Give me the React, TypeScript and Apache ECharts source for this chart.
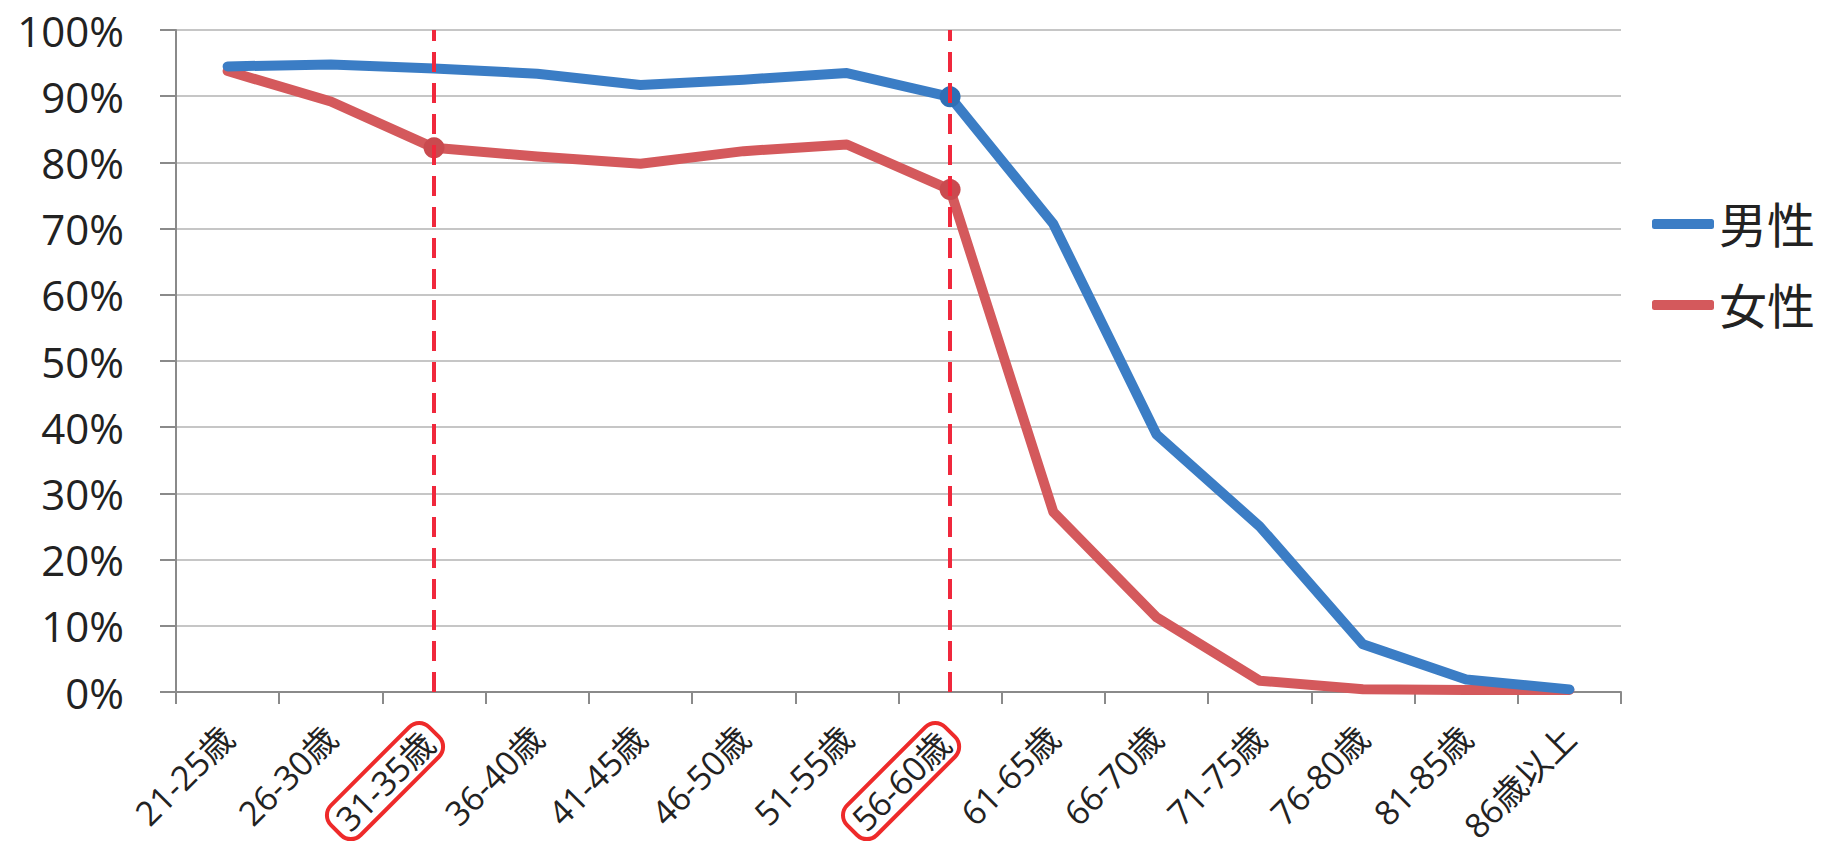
import React, { useEffect, useRef } from 'react';
import * as echarts from 'echarts';

const categories = ['21-25歳', '26-30歳', '31-35歳', '36-40歳', '41-45歳', '46-50歳', '51-55歳', '56-60歳', '61-65歳', '66-70歳', '71-75歳', '76-80歳', '81-85歳', '86歳以上'];
const maleValues = [94.5, 94.8, 94.2, 93.4, 91.7, 92.5, 93.5, 89.9, 70.7, 38.9, 25.0, 7.2, 1.9, 0.4];
const femaleValues = [93.8, 89.2, 82.2, 80.9, 79.8, 81.7, 82.7, 75.9, 27.2, 11.3, 1.7, 0.4, 0.3, 0.3];
const highlightedCategories = ['31-35歳', '56-60歳'];
const maleMarkedCategories = ['56-60歳'];
const femaleMarkedCategories = ['31-35歳', '56-60歳'];
const seriesNames = ['男性', '女性'];

const FONT = "'Open Sans', 'Noto Sans CJK JP', sans-serif";
const BLUE = '#3b7dc5';
const RED = '#d4595c';

function toData(values: number[], marked: string[], markColor: string) {
  return values.map((v, i) =>
    marked.includes(categories[i])
      ? { value: v, symbol: 'circle', symbolSize: 21, itemStyle: { color: markColor } }
      : { value: v, symbol: 'none' }
  );
}

export default function App() {
  const ref = useRef<HTMLDivElement>(null);
  useEffect(() => {
    document.body.style.margin = '0';
    const chart = echarts.init(ref.current!, null, { renderer: 'svg' });
    chart.setOption({
      animation: false,
      backgroundColor: '#ffffff',
      textStyle: { fontFamily: FONT },
      grid: { left: 176, right: 207, top: 30, bottom: 160, containLabel: false, outerBoundsMode: 'none' },
      legend: {
        orient: 'vertical',
        left: 1647,
        top: 195,
        itemGap: 33,
        itemWidth: 62,
        itemHeight: 10,
        icon: 'roundRect',
        data: seriesNames,
        textStyle: { fontSize: 48, color: '#222', fontFamily: FONT, lineHeight: 48 },
      },
      xAxis: {
        type: 'category',
        data: categories,
        boundaryGap: true,
        axisLine: { show: true, lineStyle: { color: '#8a8a8a', width: 2 } },
        axisTick: { show: true, alignWithLabel: false, interval: 0, length: 12, lineStyle: { color: '#8a8a8a', width: 2 } },
        splitLine: { show: false },
        axisLabel: {
          interval: 0,
          rotate: 45,
          margin: 40,
          fontSize: 34,
          color: '#222',
          fontFamily: FONT,
          formatter: (v: string) => (highlightedCategories.includes(v) ? `{box|${v}}` : v),
          rich: {
            box: {
              fontSize: 34,
              fontFamily: FONT,
              color: '#222',
              borderColor: '#ee2a2a',
              borderWidth: 4,
              borderRadius: 14,
              padding: [4, 8, 4, 8],
            },
          },
        },
      },
      yAxis: {
        type: 'value',
        min: 0,
        max: 100,
        interval: 10,
        axisLine: { show: true, lineStyle: { color: '#8a8a8a', width: 2 } },
        axisTick: { show: true, length: 16, lineStyle: { color: '#8a8a8a', width: 2 } },
        splitLine: { show: true, lineStyle: { color: '#c6c6c6', width: 2 } },
        axisLabel: { formatter: '{value}%', fontSize: 42, color: '#222', margin: 52, fontFamily: FONT },
      },
      series: [
        {
          name: seriesNames[0],
          type: 'line',
          color: BLUE,
          symbol: 'circle',
          lineStyle: { width: 10, color: BLUE, join: 'round', cap: 'round' },
          data: toData(maleValues, maleMarkedCategories, '#2f6fb5'),
          z: 3,
        },
        {
          name: seriesNames[1],
          type: 'line',
          color: RED,
          symbol: 'circle',
          lineStyle: { width: 10, color: RED, join: 'round', cap: 'round' },
          data: toData(femaleValues, femaleMarkedCategories, '#c94a4f'),
          z: 2,
          markLine: {
            silent: true,
            symbol: ['none', 'none'],
            label: { show: false },
            z: 10,
            lineStyle: { color: '#f0283c', width: 4, type: [20, 11] },
            data: highlightedCategories.map((c) => ({ xAxis: c })),
          },
        },
      ],
    });
    return () => chart.dispose();
  }, []);
  return <div ref={ref} style={{ position: 'fixed', left: 0, top: 0, width: 1828, height: 852 }} />;
}
